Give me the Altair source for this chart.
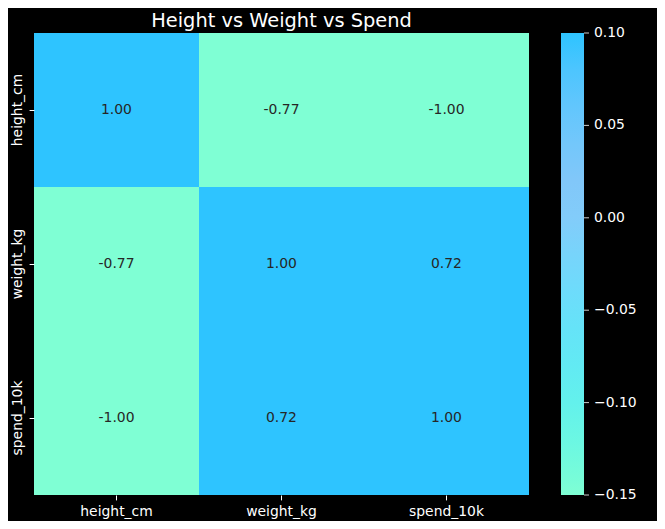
import altair as alt
import pandas as pd

variables = ["height_cm", "weight_kg", "spend_10k"]
corr = [
    [1.00, -0.77, -1.00],
    [-0.77, 1.00, 0.72],
    [-1.00, 0.72, 1.00],
]
legend_ticks = [0.10, 0.05, 0.00, -0.05, -0.10, -0.15]
color_domain = [-0.15, 0.01, 0.10]
color_range = ["#7fffd4", "#88c8f8", "#2ec4ff"]

rows = []
for i, r in enumerate(variables):
    for j, c in enumerate(variables):
        rows.append({"row": r, "col": c, "value": corr[i][j],
                     "label": f"{corr[i][j]:.2f}"})
df = pd.DataFrame(rows)

ticks_df = pd.DataFrame({
    "t": legend_ticks,
    "lab": [f"{v:.2f}".replace("-", "\u2212") for v in legend_ticks],
})

FONT = "DejaVu Sans"

base = alt.Chart(df)

rect = base.mark_rect().encode(
    x=alt.X("col:N", sort=variables, title=None,
            axis=alt.Axis(labelAngle=0, labelFontSize=13.9, labelColor="white",
                          tickColor="white", tickSize=4.9, labelPadding=4.9,
                          domain=False, labelFont=FONT)),
    y=alt.Y("row:N", sort=variables, title=None,
            axis=alt.Axis(labelAngle=270, labelAlign="center", labelBaseline="bottom",
                          labelFontSize=13.9, labelColor="white",
                          tickColor="white", tickSize=4.9, labelPadding=4.9,
                          domain=False, labelFont=FONT)),
    color=alt.Color("value:Q",
                    scale=alt.Scale(domain=color_domain, range=color_range, clamp=True),
                    legend=alt.Legend(title=None, orient="none", legendX=527, legendY=0,
                                      direction="vertical", gradientLength=462,
                                      gradientThickness=23, gradientStrokeWidth=0,
                                      labelOpacity=0, labelFontSize=1)),
)

text = base.mark_text(fontSize=13.9, color="#262626", font=FONT).encode(
    x=alt.X("col:N", sort=variables),
    y=alt.Y("row:N", sort=variables, axis=None),
    text="label:N",
)

cb_scale = alt.Scale(domain=[-0.15, 0.10])
tick_chart = alt.Chart(ticks_df)
cb_ticks = tick_chart.mark_rule(color="white", strokeWidth=0.8).encode(
    y=alt.Y("t:Q", scale=cb_scale, axis=None),
    x=alt.value(550), x2=alt.value(555),
)
cb_labels = tick_chart.mark_text(align="left", baseline="middle", color="white",
                                 fontSize=13.9, font=FONT).encode(
    y=alt.Y("t:Q", scale=cb_scale, axis=None),
    x=alt.value(560),
    text="lab:N",
)

chart = alt.layer(rect, text, cb_ticks, cb_labels).resolve_scale(
    y="independent"
).properties(
    width=495,
    height=462,
    background="black",
    padding={"left": 26, "top": 25, "right": 128, "bottom": 26},
    autosize=alt.AutoSizeParams(type="none"),
    title=alt.TitleParams("Height vs Weight vs Spend", fontSize=19.4, color="white",
                          font=FONT, fontWeight="normal", anchor="middle", offset=-5),
).configure_view(stroke=None).configure_scale(bandPaddingInner=0, bandPaddingOuter=0)

chart.save("out.html", embed_options={"renderer": "svg", "actions": False})
